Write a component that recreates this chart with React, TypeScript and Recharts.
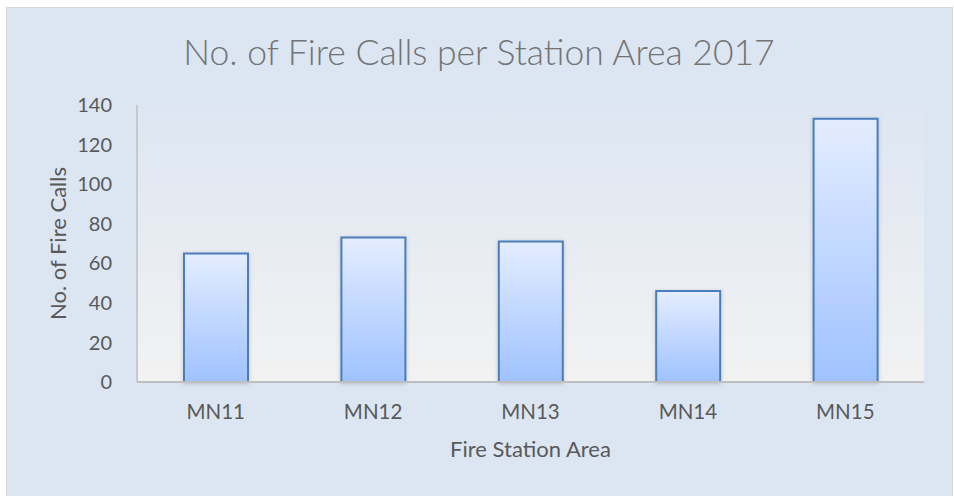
import React from 'react';
import { BarChart, Bar, XAxis, YAxis, CartesianGrid } from 'recharts';

const stations = ['MN11', 'MN12', 'MN13', 'MN14', 'MN15'];
const fireCalls = [65, 73, 71, 46, 133];
const yTicks = [0, 20, 40, 60, 80, 100, 120, 140];

const data = stations.map((s, i) => ({ station: s, calls: fireCalls[i] }));

const font = 'Lato, "Noto Sans", sans-serif';

export default function App() {
    return (
        <div style={{ position: 'absolute', left: 0, top: 0, width: 954, height: 496, overflow: 'hidden', fontFamily: font }}>
            <div
                style={{
                    position: 'absolute',
                    left: 6,
                    top: 7,
                    width: 945,
                    height: 500,
                    background: '#dce6f2',
                    border: '1px solid #d6d6d6',
                }}
            />
            <div
                style={{
                    position: 'absolute',
                    left: 0,
                    top: 27,
                    width: 958,
                    textAlign: 'center',
                    fontSize: 35.5,
                    fontWeight: 300,
                    color: '#737373',
                    lineHeight: '50px',
                }}
            >
                No. of Fire Calls per Station Area 2017
            </div>
            <div style={{ position: 'absolute', left: 0, top: 0 }}>
                <BarChart width={954} height={496} data={data} margin={{ top: 105, right: 30, bottom: 0, left: 0 }} barSize={64}>
                    <defs>
                        <linearGradient id="plotBg" x1="0" y1="0" x2="0" y2="1">
                            <stop offset="0%" stopColor="#dde6f2" />
                            <stop offset="100%" stopColor="#f2f2f2" />
                        </linearGradient>
                        <linearGradient id="barFill" x1="0" y1="0" x2="0" y2="1">
                            <stop offset="0%" stopColor="#e4edff" />
                            <stop offset="100%" stopColor="#9fc2ff" />
                        </linearGradient>
                        <filter id="barShadow" x="-20%" y="-5%" width="140%" height="110%">
                            <feDropShadow dx="0" dy="1" stdDeviation="2" floodColor="#000" floodOpacity="0.18" />
                        </filter>
                    </defs>
                    <CartesianGrid horizontal={false} vertical={false} fill="url(#plotBg)" fillOpacity={1} />
                    <XAxis
                        dataKey="station"
                        height={114}
                        axisLine={{ stroke: '#bfbfbf', strokeWidth: 2 }}
                        tickLine={false}
                        tickSize={0}
                        tickMargin={22}
                        tick={{ fill: '#595959', fontSize: 20.5, fontFamily: font }}
                        label={{ value: 'Fire Station Area', position: 'insideTop', dy: 54, fill: '#595959', fontSize: 22, fontFamily: font }}
                    />
                    <YAxis
                        width={137}
                        domain={[0, 140]}
                        ticks={yTicks}
                        interval={0}
                        axisLine={{ stroke: '#bfbfbf', strokeWidth: 1.5 }}
                        tickLine={false}
                        tickSize={0}
                        tickMargin={25}
                        tick={{ fill: '#595959', fontSize: 20, fontFamily: font }}
                        label={{ value: 'No. of Fire Calls', angle: -90, position: 'insideLeft', dx: 53, fill: '#595959', fontSize: 22, fontFamily: font, style: { textAnchor: 'middle' } }}
                    />
                    <Bar
                        dataKey="calls"
                        fill="url(#barFill)"
                        stroke="#4a7ebb"
                        strokeWidth={2}
                        filter="url(#barShadow)"
                        isAnimationActive={false}
                    />
                </BarChart>
            </div>
        </div>
    );
}
